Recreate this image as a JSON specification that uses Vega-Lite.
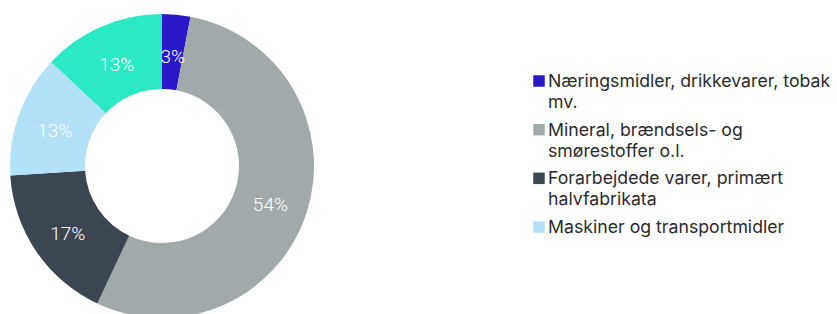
{
  "$schema": "https://vega.github.io/schema/vega-lite/v6.json",
  "padding": {"left": 10, "top": 14, "right": 0, "bottom": 0},
  "autosize": {"type": "pad"},
  "background": "white",
  "config": {"view": {"stroke": null}, "concat": {"spacing": 219}},
  "datasets": {
    "shares": [
      {"kategori": "Næringsmidler, drikkevarer, tobak mv.", "etiket": "Næringsmidler, drikkevarer, tobak\nmv.", "andel": 0.03, "orden": 1},
      {"kategori": "Mineral, brændsels- og smørestoffer o.l.", "etiket": "Mineral, brændsels- og\nsmørestoffer o.l.", "andel": 0.54, "orden": 2},
      {"kategori": "Forarbejdede varer, primært halvfabrikata", "etiket": "Forarbejdede varer, primært\nhalvfabrikata", "andel": 0.17, "orden": 3},
      {"kategori": "Maskiner og transportmidler", "etiket": "Maskiner og transportmidler", "andel": 0.13, "orden": 4},
      {"kategori": "Øvrige varer", "etiket": "Øvrige varer", "andel": 0.13, "orden": 5}
    ]
  },
  "hconcat": [
    {
      "width": 304,
      "height": 304,
      "data": {"name": "shares"},
      "layer": [
        {
          "mark": {"type": "arc", "outerRadius": 152, "innerRadius": 77, "strokeWidth": 0},
          "encoding": {
            "theta": {"field": "andel", "type": "quantitative", "stack": true},
            "order": {"field": "orden", "type": "quantitative"},
            "color": {
              "field": "kategori", "type": "nominal", "legend": null,
              "scale": {
                "domain": ["Næringsmidler, drikkevarer, tobak mv.", "Mineral, brændsels- og smørestoffer o.l.", "Forarbejdede varer, primært halvfabrikata", "Maskiner og transportmidler", "Øvrige varer"],
                "range": ["#2a18c9", "#a2a9aa", "#3b4650", "#b3e1f7", "#2beac3"]
              }
            }
          }
        },
        {
          "mark": {"type": "text", "radius": 114, "fill": "white", "font": "Roboto", "fontSize": 19, "fontWeight": 300, "align": "center", "baseline": "middle", "dy": 4},
          "encoding": {
            "theta": {"field": "andel", "type": "quantitative", "stack": true},
            "order": {"field": "orden", "type": "quantitative"},
            "text": {"field": "andel", "type": "quantitative", "format": ".0%"}
          }
        }
      ]
    },
    {
      "width": 12,
      "height": 280,
      "data": {"name": "shares"},
      "transform": [{"filter": "datum.orden <= 4"}],
      "layer": [
        {
          "mark": {"type": "point", "shape": "square", "filled": true, "size": 132, "opacity": 1},
          "encoding": {
            "y": {"field": "kategori", "type": "nominal", "sort": {"field": "orden"}, "axis": null, "scale": {"type": "point", "range": [67, 213], "padding": 0}},
            "color": {
              "field": "kategori", "type": "nominal", "legend": null,
              "scale": {
                "domain": ["Næringsmidler, drikkevarer, tobak mv.", "Mineral, brændsels- og smørestoffer o.l.", "Forarbejdede varer, primært halvfabrikata", "Maskiner og transportmidler", "Øvrige varer"],
                "range": ["#2a18c9", "#a2a9aa", "#3b4650", "#b3e1f7", "#2beac3"]
              }
            }
          }
        },
        {
          "mark": {"type": "text", "align": "left", "baseline": "alphabetic", "dx": 9, "dy": 6, "lineBreak": "\n", "lineHeight": 21, "font": "Inter", "fontSize": 17.7, "fill": "#2b2b2b"},
          "encoding": {
            "y": {"field": "kategori", "type": "nominal", "sort": {"field": "orden"}, "axis": null, "scale": {"type": "point", "range": [67, 213], "padding": 0}},
            "text": {"field": "etiket", "type": "nominal"}
          }
        }
      ]
    }
  ]
}
